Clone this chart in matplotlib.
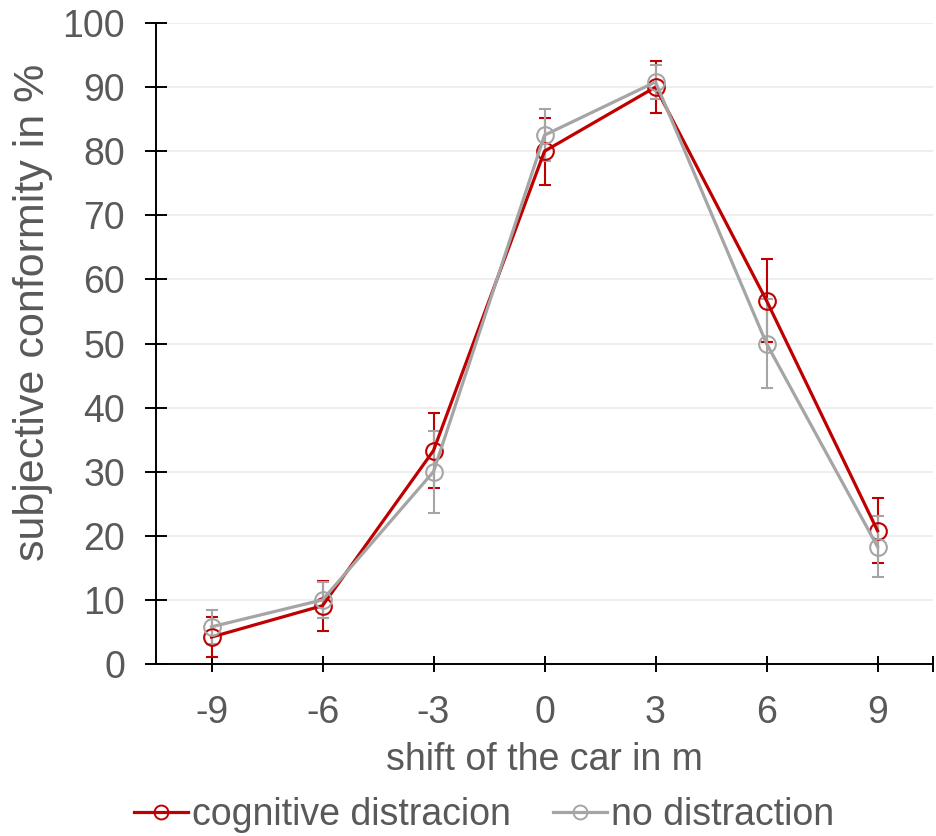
import matplotlib
matplotlib.use("Agg")
import matplotlib.pyplot as plt
import numpy as np
from matplotlib.lines import Line2D

plt.rcParams['font.family'] = ['Liberation Sans', 'DejaVu Sans']

categories = ['-9', '-6', '-3', '0', '3', '6', '9']
cog_values = [4.2, 9.1, 33.3, 80.0, 90.0, 56.7, 20.8]
cog_err = [3.1, 3.9, 5.9, 5.2, 4.0, 6.5, 5.1]
no_values = [5.8, 10.0, 30.0, 82.5, 90.8, 50.0, 18.3]
no_err = [2.7, 2.8, 6.4, 4.1, 2.6, 7.0, 4.8]
series_labels = ['cognitive distracion', 'no distraction']

RED = '#C00000'
GRAY = '#A5A5A5'
TXT = '#595959'

W, H = 936, 836
fig = plt.figure(figsize=(W / 100, H / 100), dpi=100)
ax_l, ax_r, ax_b, ax_t = 156, 933, 664, 23
ax = fig.add_axes([ax_l / W, 1 - ax_b / H, (ax_r - ax_l) / W, (ax_b - ax_t) / H])

x = np.arange(len(categories))
for vals, err, col, lab in [(cog_values, cog_err, RED, series_labels[0]),
                            (no_values, no_err, GRAY, series_labels[1])]:
    ax.errorbar(x, vals, yerr=err, color=col, ecolor=col, elinewidth=1.5,
                capsize=4.5, capthick=1.5, lw=2.3, marker='o', markersize=12,
                markerfacecolor='none', markeredgecolor=col, markeredgewidth=1.5,
                label=lab, zorder=3)

ax.set_xlim(-0.5, len(categories) - 0.5)
ax.set_ylim(0, 100)
ax.set_yticks(np.arange(0, 101, 10))
ax.set_xticks(x)
ax.set_xticks([len(categories) - 0.5], minor=True)
ax.set_xticklabels(categories)
ax.yaxis.grid(True, color='#EBEBEB', lw=1.2, zorder=0)
ax.set_axisbelow(True)
for s in ['top', 'right']:
    ax.spines[s].set_visible(False)
for s in ['left', 'bottom']:
    ax.spines[s].set_color('black')
    ax.spines[s].set_linewidth(1.4)
FS = 27
ax.tick_params(axis='y', direction='inout', length=16.5, width=1.4,
               colors='black', labelcolor=TXT, labelsize=FS, pad=14)
ax.tick_params(axis='x', which='both', direction='inout', length=12, width=1.4,
               colors='black', labelcolor=TXT, labelsize=FS, pad=16)

fig.text(544 / W, 1 - 760 / H, 'shift of the car in m', fontsize=FS, color=TXT,
         ha='center', va='center')
fig.text(33 / W, 1 - 312 / H, 'subjective conformity in %', fontsize=31,
         color=TXT, ha='center', va='center', rotation=90)

h2 = [Line2D([0], [0], color=c, lw=2.3, marker='o', markersize=10,
             markerfacecolor='none', markeredgewidth=1.4)
      for c in (RED, GRAY)]
leg = fig.legend(h2, series_labels, loc='center', bbox_to_anchor=(484 / W, 1 - 815 / H),
                 ncol=2, frameon=False, fontsize=FS, handlelength=1.45,
                 handletextpad=0.12, columnspacing=1.1, borderpad=0)
for t in leg.get_texts():
    t.set_color(TXT)

fig.savefig('out.png', dpi=100)
